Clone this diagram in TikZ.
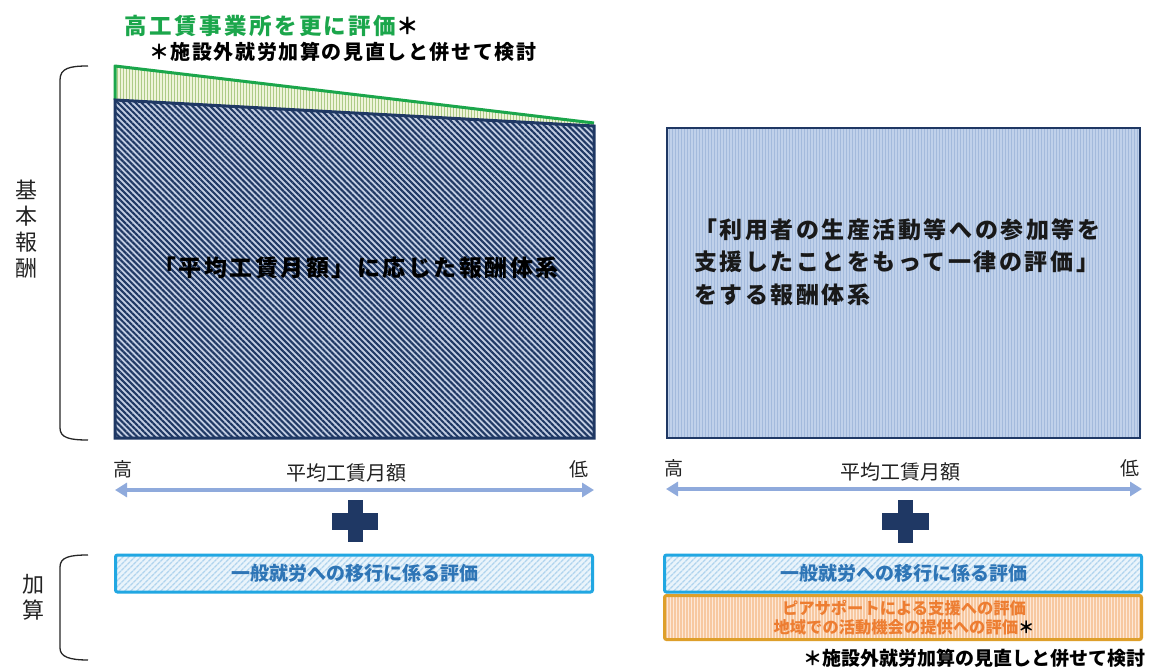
\documentclass[tikz,border=0pt]{standalone}
\usepackage{fontspec}
\setmainfont{Noto Sans CJK JP}
\usetikzlibrary{patterns.meta,arrows.meta}
\definecolor{navy}{HTML}{1F3864}
\definecolor{navybase}{HTML}{C2CDE2}
\definecolor{grn}{HTML}{1BA64B}
\definecolor{grnbase}{HTML}{EEF4DA}
\definecolor{grnline}{HTML}{ADCB86}
\definecolor{rbase}{HTML}{C0D1EA}
\definecolor{rline}{HTML}{A3BADC}
\definecolor{axis}{HTML}{8FAADC}
\definecolor{cyanb}{HTML}{21A7E2}
\definecolor{cbase}{HTML}{EAF4FB}
\definecolor{cline}{HTML}{B0D4EE}
\definecolor{ctext}{HTML}{2E75B6}
\definecolor{orb}{HTML}{DE9F2A}
\definecolor{obase}{HTML}{FDE8D7}
\definecolor{oline}{HTML}{F7C8A0}
\definecolor{otext}{HTML}{ED7D31}
\definecolor{gtext}{HTML}{222222}
\tikzset{
  addbox/.style={rectangle, inner sep=0pt, minimum width=477pt, minimum height=37pt,
    rounded corners=2pt, draw=cyanb, line width=3pt, preaction={fill=cbase},
    pattern={Lines[angle=45,distance=4pt,line width=1.4pt]}, pattern color=cline},
  orbox/.style={rectangle, inner sep=0pt, minimum width=477pt, minimum height=44pt,
    rounded corners=2pt, draw=orb, line width=3pt, preaction={fill=obase},
    pattern={Lines[angle=90,distance=3pt,line width=1.1pt]}, pattern color=oline},
  axarrow/.style={draw=axis, line width=3.5pt, {Triangle[length=12pt,width=14pt]}-{Triangle[length=12pt,width=14pt]}},
  plusbar/.style={fill=navy},
  sidelabel/.style={align=center, text=gtext, inner sep=0pt, font={\fontsize{22}{26}\selectfont}},
  bracket/.style={draw=black!85, line width=1.3pt},
  axlabel/.style={text=gtext, inner sep=0pt, font={\fontsize{19}{22}\selectfont}},
  bigtext/.style={inner sep=0pt, text=black!90, font={\fontsize{23}{32.5}\selectfont\bfseries\addfontfeatures{LetterSpace=11}}},
}
\begin{document}
\begin{tikzpicture}[x=1pt,y=-1pt]
\useasboundingbox (0,0) rectangle (1149,668);
\fill[white] (0,0) rectangle (1149,668);

% title texts
\node[inner sep=0pt, anchor=west, text=grn, font={\fontsize{22.5}{24}\selectfont\bfseries\addfontfeatures{LetterSpace=11}}] (title) at (124,26) {高工賃事業所を更に評価\textcolor{black}{＊}};
\node[inner sep=0pt, anchor=west, text=black, font={\fontsize{20}{24}\selectfont\bfseries\addfontfeatures{LetterSpace=8}}] (note1) at (149,52) {＊施設外就労加算の見直しと併せて検討};

% left main box: green wedge
\fill[grnbase] (115,66) -- (594,123) -- (594,127) -- (115,100) -- cycle;
\fill[pattern={Lines[angle=90,distance=3pt,line width=1pt]}, pattern color=grnline] (115,66) -- (594,123) -- (594,127) -- (115,100) -- cycle;
% dark box
\fill[navybase] (115,100) -- (594,126) -- (594,438) -- (115,438) -- cycle;
\fill[pattern={Lines[angle=-45,distance=4.2pt,line width=2.1pt]}, pattern color=navy] (115,100) -- (594,126) -- (594,438) -- (115,438) -- cycle;
\draw[grn, line width=3pt, line join=round] (115,100) -- (115,66) -- (594,123);
\draw[navy, line width=3pt, line join=miter] (115,100) -- (594,126) -- (594,438) -- (115,438) -- cycle;
\node[bigtext, text=black] (ltext) at (356,268) {「平均工賃月額」に応じた報酬体系};

% right main box
\node[rectangle, inner sep=0pt, minimum width=473pt, minimum height=310pt, draw=navy, line width=2.5pt,
  preaction={fill=rbase}, pattern={Lines[angle=90,distance=3pt,line width=1pt]}, pattern color=rline] (rbox) at (903.5,283) {};
\node[bigtext, anchor=west, align=left] (rtext) at (694,262)
  {「利用者の生産活動等への参加等を\\支援したことをもって一律の評価」\\をする報酬体系};

% side labels and brackets
\node[sidelabel] (kihon) at (27,229) {基\\本\\報\\酬};
\draw[bracket] (88,66) .. controls (70,66) and (60,68) .. (60,80) -- (60,428) .. controls (60,438) and (70,440) .. (88,440);
\node[sidelabel] (kasan) at (33,597) {加\\算};
\draw[bracket] (88,555) .. controls (70,555) and (60,557) .. (60,567) -- (60,648) .. controls (60,657) and (70,660) .. (88,660);

% axes
\node[axlabel] (lhigh) at (123,469) {高};
\node[axlabel, font={\fontsize{20}{24}\selectfont}] (lmid) at (346,473) {平均工賃月額};
\node[axlabel] (llow) at (579,469) {低};
\coordinate (la1) at (115,490);
\coordinate (la2) at (594,490);
\draw[axarrow] (la1) -- (la2);
\node[axlabel] (rhigh) at (674,468) {高};
\node[axlabel, font={\fontsize{20}{24}\selectfont}] (rmid) at (900,472) {平均工賃月額};
\node[axlabel] (rlow) at (1130,468) {低};
\coordinate (ra1) at (666,489);
\coordinate (ra2) at (1142,489);
\draw[axarrow] (ra1) -- (ra2);

% plus signs
\fill[plusbar] (332,512.5) rectangle (378,529.5);
\fill[plusbar] (347.5,500) rectangle (362.5,542);
\fill[plusbar] (882,513) rectangle (929,530);
\fill[plusbar] (898,500) rectangle (913,543);

% addition boxes
\node[addbox] (lkasan) at (354,573.5) {};
\node[inner sep=0pt, text=ctext, font={\fontsize{19}{22}\selectfont\bfseries}] (lktext) at (355,573) {一般就労への移行に係る評価};
\node[addbox] (rkasan) at (903,573.5) {};
\node[inner sep=0pt, text=ctext, font={\fontsize{19}{22}\selectfont\bfseries}] (rktext) at (904,573) {一般就労への移行に係る評価};
\node[orbox] (okasan) at (903,617.5) {};
\node[inner sep=0pt, align=center, text=otext, font={\fontsize{16.3}{18.5}\selectfont\bfseries}] (oktext) at (904,617.5)
  {ピアサポートによる支援への評価\\地域での活動機会の提供への評価\textcolor{black}{＊}};

% footnote
\node[inner sep=0pt, anchor=east, text=black, font={\fontsize{19}{22}\selectfont\bfseries}] (note2) at (1146,658) {＊施設外就労加算の見直しと併せて検討};
\end{tikzpicture}
\end{document}
